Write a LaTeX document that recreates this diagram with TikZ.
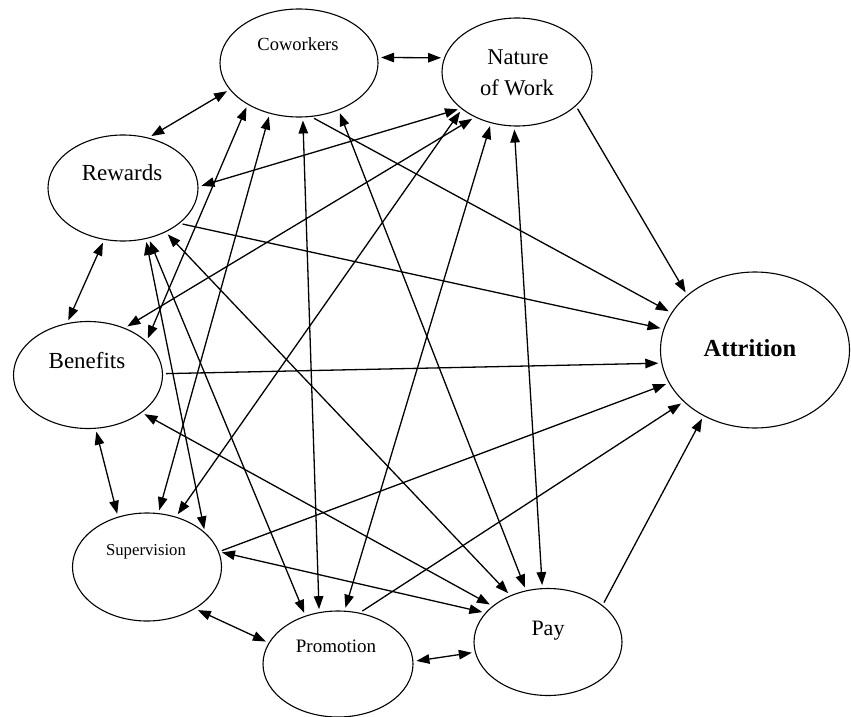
\documentclass[tikz,border=0pt]{standalone}
\usepackage{fontspec}
\setmainfont{Liberation Serif}
\usetikzlibrary{shapes.geometric,arrows.meta}
\begin{document}
\begin{tikzpicture}[x=1pt,y=-1pt,
  ell/.style={draw,ellipse,line width=1.1pt,inner sep=0pt},
  lbl/.style={anchor=base,inner sep=0pt},
  conn/.style={line width=1.3pt,shorten <=3pt,shorten >=3pt},
  one/.style={conn,-{Triangle[length=13pt,width=9.5pt]}},
  two/.style={conn,{Triangle[length=13pt,width=9.5pt]}-{Triangle[length=13pt,width=9.5pt]}}]
\useasboundingbox[fill=white] (0,0) rectangle (851,717);

% ellipses
\node[ell,minimum width=158pt,minimum height=108pt] (cow) at (299,63) {};
\node[ell,minimum width=150pt,minimum height=108pt] (nat) at (517,72) {};
\node[ell,minimum width=150pt,minimum height=106pt] (rew) at (123,188) {};
\node[ell,minimum width=149pt,minimum height=107pt] (ben) at (88,375) {};
\node[ell,minimum width=189pt,minimum height=156pt] (att) at (755,350) {};
\node[ell,minimum width=149pt,minimum height=108pt] (sup) at (147,567) {};
\node[ell,minimum width=150pt,minimum height=106pt] (pro) at (338,664) {};
\node[ell,minimum width=148pt,minimum height=107pt] (pay) at (548,642) {};

% labels
\node[lbl,font=\fontsize{18.5}{22}\selectfont] (tcow) at (298,50.7) {Coworkers};
\node[lbl,font=\fontsize{22.5}{27}\selectfont] (tnat1) at (518,64) {Nature};
\node[lbl,font=\fontsize{22.5}{27}\selectfont] (tnat2) at (517,95.7) {of Work};
\node[lbl,font=\fontsize{23}{27}\selectfont] (trew) at (122,180.7) {Rewards};
\node[lbl,font=\fontsize{23}{27}\selectfont] (tben) at (87,368) {Benefits};
\node[lbl,font=\bfseries\fontsize{24.5}{29}\selectfont] (tatt) at (750,356.7) {Attrition};
\node[lbl,font=\fontsize{16.7}{20}\selectfont] (tsup) at (146,555) {Supervision};
\node[lbl,font=\fontsize{19}{23}\selectfont] (tpro) at (336,652.7) {Promotion};
\node[lbl,font=\fontsize{22}{26}\selectfont] (tpay) at (548,635) {Pay};

% neighbouring pairs
\draw[two] (cow.4) -- (nat.169);
\draw[two] (rew.63) -- (cow.201);
\draw[two] (rew.250) -- (ben.112);
\draw[two] (ben.278) -- (sup.120);
\draw[two] (sup.319) -- (pro.163);
\draw[two] (pro.2) -- (pay.188);

% to attrition
\draw[one] (nat.330) -- (att.141);
\draw[one] (cow.283) -- (att.156);
\draw[one] (rew.328) -- (att.167);
\draw[one] (ben.1) -- (att.188);
\draw[one] (sup.12) -- (att.201);
\draw[one] (pro.67) -- (att.216);
\draw[one] (pay.34) -- (att.232);

% cross links
\draw[two] (rew.1) -- (nat.213);
\draw[two] (ben.52) -- (nat.227);
\draw[two] (sup.60) -- (nat.214);
\draw[two] (pro.83) -- (nat.243);
\draw[two] (pay.96) -- (nat.267);
\draw[two] (ben.30) -- (cow.219);
\draw[two] (sup.78) -- (cow.240);
\draw[two] (pro.110) -- (cow.274);
\draw[two] (pay.113) -- (cow.310);
\draw[two] (sup.31) -- (rew.294);
\draw[two] (pro.124) -- (rew.297);
\draw[two] (pay.129) -- (rew.314);
\draw[two] (pay.147) -- (ben.325);
\draw[two] (pay.155) -- (sup.12);
\end{tikzpicture}
\end{document}
